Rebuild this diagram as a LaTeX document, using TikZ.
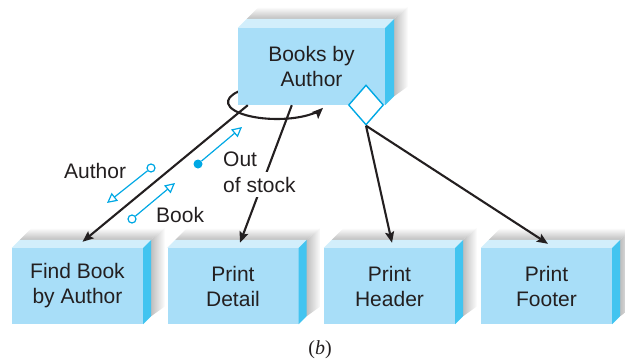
\documentclass[tikz,border=0pt]{standalone}
\usepackage{fontspec}
\setmainfont{Liberation Sans}
\newfontfamily\captionserif{Liberation Serif}
\usetikzlibrary{arrows.meta,shapes.geometric,calc}
\definecolor{modfront}{RGB}{168,222,248}
\definecolor{modtop}{RGB}{210,238,251}
\definecolor{modside}{RGB}{66,196,240}
\definecolor{flagcyan}{RGB}{0,168,228}
\definecolor{textgray}{RGB}{35,31,32}

\begin{document}
\begin{tikzpicture}[x=1pt, y=-1pt,
    module/.style={rectangle, fill=modfront, inner sep=0pt, minimum width=131pt, minimum height=76pt, align=center, text=textgray, font=\fontsize{21}{25}\selectfont},
    edge/.style={line width=2.1pt, textgray, -{Stealth[length=11pt,width=9pt,inset=2pt]}},
    couple/.style={line width=1.2pt, flagcyan, -{Triangle[open,length=10pt,width=10pt]}},
    dataflag/.style={circle, draw=flagcyan, line width=1.2pt, fill=white, inner sep=0pt, minimum size=8pt},
    ctrlflag/.style={circle, fill=flagcyan, inner sep=0pt, minimum size=9pt},
    decision/.style={diamond, draw=flagcyan, fill=white, line width=1.4pt, inner sep=0pt, minimum width=35pt, minimum height=40pt},
    flaglabel/.style={text=textgray, font=\fontsize{21}{24}\selectfont, inner sep=1pt}]
  \useasboundingbox (0,0) rectangle (625,364);
  % iteration loop, partly hidden by the box
  \coordinate (loopc) at (277,102);
  \draw[edge] ($(loopc)+(230:49 and 17)$) arc[start angle=230, end angle=20, x radius=49, y radius=17];
  \node[module, minimum width=147pt, minimum height=77pt] (top) at (311.5,66.5) {Books by\\Author};
  \node[module] (find) at (77.5,286) {Find Book\\by Author};
  \node[module] (detail) at (233,286) {Print\\Detail};
  \node[module] (header) at (389.5,286) {Print\\Header};
  \node[module] (footer) at (546.5,286) {Print\\Footer};
  \foreach \n/\d in {top/9,find/8,detail/8,header/8,footer/8} {
    \shade[top color=white, bottom color=gray!50] ($(\n.north west)+(\d,-\d)$) -- ($(\n.north west)+(\d+12,-\d-12)$)
      -- ($(\n.north east)+(\d+14,-\d-12)$) -- ($(\n.north east)+(\d,-\d)$) -- cycle;
    \shade[left color=gray!50, right color=white] ($(\n.north east)+(\d,-\d)$) -- ($(\n.north east)+(\d+14,-\d-12)$)
      -- ($(\n.south east)+(\d+14,-\d-10)$) -- ($(\n.south east)+(\d,-\d)$) -- cycle;
    \fill[modtop] (\n.north west) -- ($(\n.north west)+(\d,-\d)$) -- ($(\n.north east)+(\d,-\d)$) -- (\n.north east) -- cycle;
    \fill[modside] (\n.north east) -- ($(\n.north east)+(\d,-\d)$) -- ($(\n.south east)+(\d,-\d)$) -- (\n.south east) -- cycle;
  }
  \draw[edge] ($(top.south west)+(10,0)$) -- ($(find.north)+(5,-6)$);
  \draw[edge] ($(top.south west)+(54,0)$) -- ($(detail.north)+(7,-5)$);
  \node[decision] (join) at (366,105) {};
  \draw[edge] (join.south) -- ($(header.north)+(2.5,-5)$);
  \draw[edge] (join.south) -- ($(footer.north)+(1.5,-4)$);
  % couples
  \node[dataflag] (authorflag) at (151,168) {};
  \coordinate (authortip) at (107,203);
  \node[dataflag] (bookflag) at (132,219) {};
  \coordinate (booktip) at (175,183);
  \node[ctrlflag] (stockflag) at (198,164) {};
  \coordinate (stocktip) at (242,127);
  \draw[couple] (authorflag) -- (authortip);
  \draw[couple] (bookflag) -- (booktip);
  \draw[couple] (stockflag) -- (stocktip);
  \node[flaglabel, anchor=base west] (authorlbl) at (63,178) {Author};
  \node[flaglabel, anchor=base west] (booklbl) at (155,222) {Book};
  \node[flaglabel, anchor=base west] (outlbl) at (222,166) {Out};
  \node[flaglabel, anchor=base west, fill=white, inner ysep=5pt] (stocklbl) at (222,192) {of stock};
  \node[text=textgray, font=\captionserif\fontsize{20}{24}\selectfont] (caption) at (320,350) {(\textit{b})};
\end{tikzpicture}
\end{document}
